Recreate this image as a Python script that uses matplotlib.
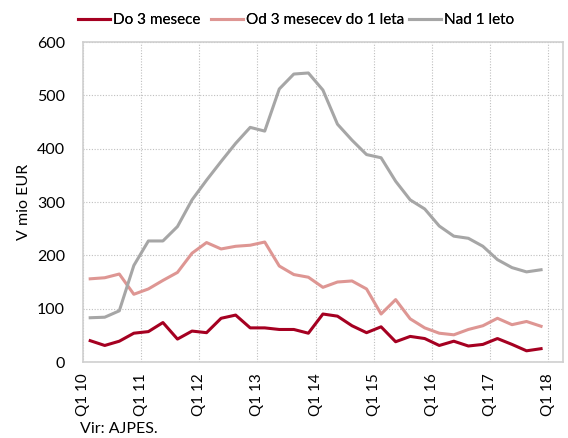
import matplotlib
matplotlib.use("Agg")
import matplotlib.pyplot as plt
import numpy as np

plt.rcParams['font.family'] = ['Lato', 'DejaVu Sans']

# Quarterly series, Q1 2010 - Q4 2017 (mio EUR)
do_3_mesece = [40, 31, 39, 54, 57, 74, 43, 58, 55, 82, 88, 64, 64, 61, 61, 54,
               90, 86, 68, 55, 66, 38, 48, 44, 31, 39, 30, 33, 44, 33, 21, 25]
od_3_do_1 = [156, 158, 165, 127, 137, 153, 168, 204, 224, 212, 217, 219, 225, 180, 164, 159,
             140, 150, 152, 137, 90, 117, 81, 64, 54, 51, 61, 68, 82, 70, 76, 67]
nad_1_leto = [83, 84, 96, 181, 227, 227, 254, 304, 341, 376, 410, 440, 433, 512, 540, 542,
              510, 446, 416, 389, 383, 339, 304, 287, 255, 236, 232, 217, 192, 177, 169, 173]
tick_labels = ["Q1 10", "Q1 11", "Q1 12", "Q1 13", "Q1 14", "Q1 15", "Q1 16", "Q1 17", "Q1 18"]
series_names = ["Do 3 mesece", "Od 3 mesecev do 1 leta", "Nad 1 leto"]

colors = ["#A50021", "#DE9693", "#A6A6A6"]

W, H = 568, 438
fig = plt.figure(figsize=(W / 100, H / 100), dpi=100)
ax = fig.add_axes([0.146, 0.1735, 0.845, 0.7305])

x = np.arange(len(do_3_mesece))
handles = []
for vals, name, c in zip([do_3_mesece, od_3_do_1, nad_1_leto], series_names, colors):
    h, = ax.plot(x, vals, color=c, lw=2.2, label=name, solid_joinstyle='round')
    handles.append(h)

ax.set_xlim(-0.5, len(x) + 0.5)
ax.set_ylim(0, 600)
ax.set_yticks(np.arange(0, 601, 100))
ax.set_xticks(np.arange(len(tick_labels)) * 4 - 0.5)
ax.set_xticklabels(tick_labels, rotation=90)
ax.tick_params(axis='both', length=0, labelsize=11.5, colors='black')
ax.tick_params(axis='y', pad=13)
ax.tick_params(axis='x', labelsize=11, pad=8)

ax.grid(True, color='#BFBFBF', linestyle=(0, (1, 1.5)), lw=0.8)
ax.set_axisbelow(True)
for s in ax.spines.values():
    s.set_color('#CFCFCF')
    s.set_linewidth(1.2)

ax.set_ylabel("V mio EUR", fontsize=11.5, labelpad=4)

# one legend entry per series, laid out along the top edge
legend_left_px = [78, 211, 409]
for h, lx in zip(handles, legend_left_px):
    lg = fig.legend(handles=[h], loc='center left', bbox_to_anchor=(lx / W, 1 - 20 / H),
                    frameon=False, fontsize=11, handlelength=2.1, handletextpad=0.2,
                    borderaxespad=0, borderpad=0)
    fig.add_artist(lg)

fig.text(80 / W, 1 - 429 / H, "Vir: AJPES.", fontsize=11.5, va='center')

fig.savefig("out.png", dpi=100)
